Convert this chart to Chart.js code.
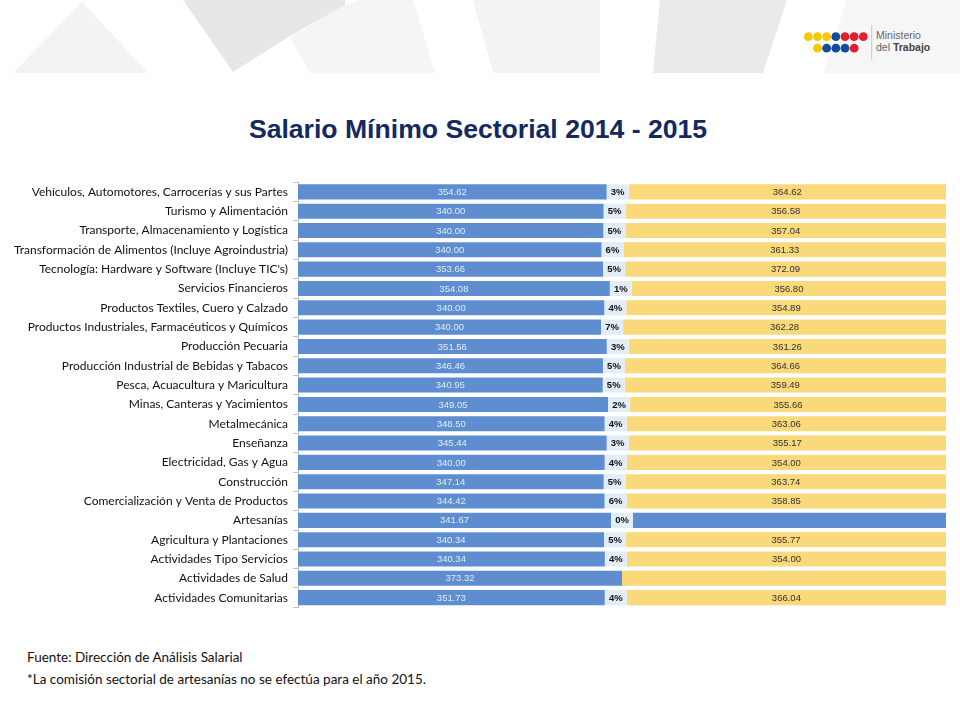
<!DOCTYPE html>
<html>
<head>
<meta charset="utf-8">
<script src="https://cdn.jsdelivr.net/npm/chart.js@4/dist/chart.umd.min.js"></script>
<style>
  html, body { margin: 0; padding: 0; background: #fff; }
  #page { position: relative; width: 960px; height: 720px; overflow: hidden; background: #fff; }
  #bg { position: absolute; left: 0; top: 0; }
  #title { position: absolute; left: 0; width: 956px; top: 114px; text-align: center; line-height: 30px;
           font-family: "Liberation Sans", Arial, sans-serif; font-weight: bold; font-size: 26.6px; color: #13295f; }
  #chartWrap { position: absolute; left: 0; top: 170px; width: 960px; height: 450px; }
  .foot { position: absolute; left: 27px; font-family: Lato, "Open Sans", sans-serif; font-size: 13.5px; line-height: 16px; color: #111; }
  #logoText { position: absolute; left: 876px; top: 29px; font-family: "Liberation Sans", Arial, sans-serif;
              font-size: 10.5px; line-height: 12px; color: #666; }
  #logoText b { color: #444; }
</style>
</head>
<body>
<div id="page">
  <svg id="bg" width="960" height="80" viewBox="0 0 960 80">
    <polygon points="13,73 82,2 148,73" fill="#f3f3f3"/>
    <polygon points="290,37 345,5 360,0 413,0 435,73 310,73" fill="#f5f5f5"/>
    <polygon points="183,0 345,0 345,5 290,36 233,72" fill="#e7e7e7"/>
    <polygon points="473,0 600,0 600,73 493,73" fill="#f3f3f3"/>
    <polygon points="660,0 787,0 763,73 653,73" fill="#eaeaea"/>
    <polygon points="847,0 960,0 960,73 823,73" fill="#f6f6f6"/>
    <line x1="871.7" y1="25" x2="871.7" y2="60" stroke="#c8c8c8" stroke-width="1"/>
    <g id="dots"></g>
  </svg>
  <div id="logoText">Ministerio<br>del <b>Trabajo</b></div>
  <div id="title">Salario Mínimo Sectorial 2014 - 2015</div>
  <div id="chartWrap"><canvas id="c" width="960" height="450"></canvas></div>
  <div class="foot" style="top:648.5px;">Fuente: Dirección de Análisis Salarial</div>
  <div class="foot" style="top:671px;">*La comisión sectorial de artesanías no se efectúa para el año 2015.</div>
</div>
<script>
// ---- Data ----
const categories = [
  "Vehículos, Automotores, Carrocerías y sus Partes",
  "Turismo y Alimentación",
  "Transporte, Almacenamiento y Logística",
  "Transformación de Alimentos (Incluye Agroindustria)",
  "Tecnología: Hardware y Software (Incluye TIC's)",
  "Servicios Financieros",
  "Productos Textiles, Cuero y Calzado",
  "Productos Industriales, Farmacéuticos y Químicos",
  "Producción Pecuaria",
  "Producción Industrial de Bebidas y Tabacos",
  "Pesca, Acuacultura y Maricultura",
  "Minas, Canteras y Yacimientos",
  "Metalmecánica",
  "Enseñanza",
  "Electricidad, Gas y Agua",
  "Construcción",
  "Comercialización y Venta de Productos",
  "Artesanías",
  "Agricultura y Plantaciones",
  "Actividades Tipo Servicios",
  "Actividades de Salud",
  "Actividades Comunitarias"
];
const salario2014 = [354.62, 340.00, 340.00, 340.00, 353.66, 354.08, 340.00, 340.00, 351.56, 346.46, 340.95,
                     349.05, 348.50, 345.44, 340.00, 347.14, 344.42, 341.67, 340.34, 340.34, 373.32, 351.73];
const salario2015 = [364.62, 356.58, 357.04, 361.33, 372.09, 356.80, 354.89, 362.28, 361.26, 364.66, 359.49,
                     355.66, 363.06, 355.17, 354.00, 363.74, 358.85, null, 355.77, 354.00, null, 366.04];
const variacion   = [3, 5, 5, 6, 5, 1, 4, 7, 3, 5, 5, 2, 4, 3, 4, 5, 6, 0, 5, 4, null, 4];

// ---- Styles ----
const BLUE = "#5e8ecf", YELLOW = "#f9d97a", GAPC = "#e3edf6";
const GAP_SHARE = 3.4; // width (in % of row) of the variation cell

// Each row is shown as a 100% bar: 2014 | variación | 2015.
// Where 2015 is missing the right part is drawn at the 2014 level (0 % change).
const share14 = [], shareGap = [], share15 = [], rightColors = [];
for (let i = 0; i < categories.length; i++) {
  const a = salario2014[i];
  const b = salario2015[i] == null ? a : salario2015[i];
  const g = variacion[i] == null ? 0 : GAP_SHARE;
  share14.push((100 - g) * a / (a + b));
  shareGap.push(g);
  share15.push((100 - g) * b / (a + b));
  rightColors.push(salario2015[i] == null && variacion[i] != null ? BLUE : YELLOW);
}

// logo dots
(function () {
  const g = document.getElementById('dots');
  const Y = "#f7c800", B = "#124c9e", R = "#e2202b";
  const top = [Y, Y, Y, B, R, R, R], bot = [Y, B, B, B, R];
  const ns = "http://www.w3.org/2000/svg";
  top.forEach((c, k) => { const e = document.createElementNS(ns, 'circle');
    e.setAttribute('cx', 808.3 + k * 9.17); e.setAttribute('cy', 36.7); e.setAttribute('r', 4.4); e.setAttribute('fill', c); g.appendChild(e); });
  bot.forEach((c, k) => { const e = document.createElementNS(ns, 'circle');
    e.setAttribute('cx', 817.5 + k * 9.17); e.setAttribute('cy', 48.2); e.setAttribute('r', 4.4); e.setAttribute('fill', c); g.appendChild(e); });
})();

const segLabels = {
  id: 'segLabels',
  afterDatasetsDraw(chart) {
    const ctx = chart.ctx;
    ctx.save();
    ctx.textAlign = 'center';
    ctx.textBaseline = 'middle';
    chart.data.datasets.forEach((ds, di) => {
      const meta = chart.getDatasetMeta(di);
      meta.data.forEach((bar, i) => {
        const t = ds.cellText[i];
        if (t == null) return;
        ctx.font = ds.cellFont;
        ctx.fillStyle = ds.cellColor;
        ctx.fillText(t, (bar.x + bar.base) / 2, bar.y + 0.5);
      });
    });
    ctx.restore();
  }
};

new Chart(document.getElementById('c'), {
  type: 'bar',
  data: {
    labels: categories,
    datasets: [
      { label: '2014', data: share14, backgroundColor: BLUE,
        cellText: salario2014.map(v => v.toFixed(2)), cellColor: '#e4ebf6',
        cellFont: '9.5px "Liberation Sans", Arial, sans-serif' },
      { label: 'Variación', data: shareGap, backgroundColor: GAPC,
        cellText: variacion.map(v => v == null ? null : v + '%'), cellColor: '#111',
        cellFont: 'bold 9.5px "Liberation Sans", Arial, sans-serif' },
      { label: '2015', data: share15, backgroundColor: rightColors,
        cellText: salario2015.map(v => v == null ? null : v.toFixed(2)), cellColor: '#333',
        cellFont: '9.5px "Liberation Sans", Arial, sans-serif' }
    ]
  },
  options: {
    indexAxis: 'y',
    responsive: false,
    animation: false,
    layout: { padding: { top: 8.3, bottom: 12.7, left: 0, right: 14 } },
    datasets: { bar: { barPercentage: 0.78, categoryPercentage: 1, borderWidth: 0 } },
    plugins: { legend: { display: false }, tooltip: { enabled: false }, title: { display: false } },
    scales: {
      x: { stacked: true, min: 0, max: 100, display: false },
      y: {
        stacked: true,
        afterFit(s) { s.width = 298; },
        border: { display: true, color: '#b9c3cf', width: 1 },
        grid: { drawOnChartArea: false, drawTicks: true, tickLength: 5, color: '#b9c3cf', offset: true },
        ticks: { padding: 5, color: '#111', font: { family: 'Lato, "Open Sans", sans-serif', size: 12 } }
      }
    }
  },
  plugins: [segLabels]
});
</script>
</body>
</html>
